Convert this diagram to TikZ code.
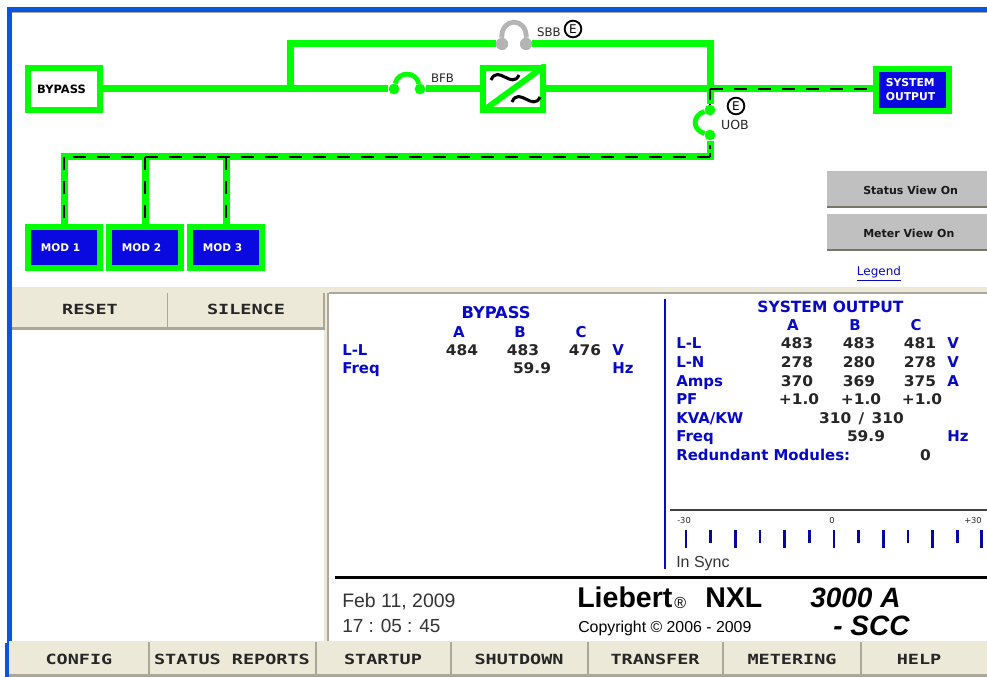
\documentclass[tikz,border=0pt]{standalone}
\usepackage{fontspec}
\setmainfont{Liberation Sans}
\newfontfamily\sanslab{DejaVu Sans}
\newfontfamily\btnfont[FakeStretch=1.32]{DejaVu Sans Mono}
\newfontfamily\datafont[FakeStretch=1.05]{DejaVu Sans}
\definecolor{busgreen}{HTML}{00FF00}
\definecolor{boxblue}{HTML}{0A0AE0}
\definecolor{txtblue}{HTML}{0808C8}
\definecolor{beige}{HTML}{ECE9D8}
\definecolor{bevel}{HTML}{ACA899}
\definecolor{winblue}{HTML}{0A55E0}
\definecolor{btngray}{HTML}{C0C0C0}
\definecolor{swgray}{HTML}{B4B4B4}
\tikzset{
  bus/.style={draw=busgreen,line width=5.25pt,line join=miter},
  live/.style={draw=black,line width=1.9pt,dash pattern=on 9.5pt off 8.5pt},
  statbox/.style={draw=busgreen,line width=4.5pt,fill=white,minimum width=54pt,minimum height=31.5pt,inner sep=0pt,font=\sanslab\bfseries\fontsize{8.6}{10}\selectfont,text=black},
  modbox/.style={draw=busgreen,line width=4.5pt,fill=boxblue,minimum width=54pt,minimum height=30.75pt,inner sep=0pt,font=\sanslab\bfseries\fontsize{7.9}{10}\selectfont,text=white},
  outbox/.style={modbox,minimum width=54.75pt,minimum height=31.5pt,align=left,font=\sanslab\bfseries\fontsize{8.1}{10.5}\selectfont},
  pole/.style={circle,fill=busgreen,inner sep=0pt,minimum size=8pt},
  polegray/.style={circle,fill=swgray,inner sep=0pt,minimum size=9pt},
  armgreen/.style={draw=busgreen,line width=3.6pt},
  armgray/.style={draw=swgray,line width=3.6pt},
  small/.style={inner sep=0pt,font=\sanslab\fontsize{8.8}{10}\selectfont,text=black!85},
  ecirc/.style={circle,draw=black,line width=1.4pt,fill=white,inner sep=0pt,minimum size=12.5pt,font=\sanslab\fontsize{9}{10}\selectfont},
  greybtn/.style={fill=btngray,inner sep=0pt},
  gbtxt/.style={inner sep=0pt,anchor=base west,font=\sanslab\bfseries\fontsize{8.25}{10}\selectfont,text=black!90},
  head/.style={inner sep=0pt,anchor=base,font=\sanslab\bfseries\fontsize{11.6}{12}\selectfont,text=txtblue},
  lab/.style={inner sep=0pt,anchor=base west,font=\sanslab\bfseries\fontsize{11.2}{12}\selectfont,text=txtblue},
  cen/.style={lab,anchor=base},
  val/.style={inner sep=0pt,anchor=base,font=\datafont\bfseries\fontsize{11}{12}\selectfont,text=black!85},
  btn/.style={inner sep=0pt,anchor=base,font=\btnfont\bfseries\fontsize{10.5}{12}\selectfont,text=black!85},
  tick/.style={draw=txtblue!80!black,line width=2pt},
  scl/.style={inner sep=0pt,anchor=base,font=\sanslab\fontsize{6.2}{8}\selectfont,text=black!85},
  plain/.style={inner sep=0pt,anchor=base west,text=black!80},
  tilde/.style={draw=black,line width=2.3pt}
}
\begin{document}
\begin{tikzpicture}[x=0.75pt,y=-0.75pt]
\useasboundingbox (0,0) rectangle (987,677);
\fill[white] (0,0) rectangle (987,677);
% window frame
\fill[winblue] (7,7) rectangle (987,12);
\fill[winblue] (7,7) rectangle (12,643);
\fill[winblue] (5,643) rectangle (9,677);
\fill[bevel] (12,12) rectangle (987,13.5);
% panels
\fill[beige] (12,287) rectangle (987,293);
\fill[bevel] (329,292) rectangle (987,294);
\fill[beige] (324,293) rectangle (328,643);
\fill[bevel] (327,293) rectangle (329,643);
% left buttons
\fill[beige] (12,293) rectangle (324,327);
\fill[bevel] (12,327) rectangle (325,330);
\fill[bevel] (166.5,293) rectangle (168,327);
\fill[bevel] (323,293) rectangle (325,330);
\node[btn] (reset) at (90,314) {RESET};
\node[btn] (silence) at (246,314) {SILENCE};
% bottom buttons
\fill[beige] (9,641) rectangle (987,674);
\fill[bevel] (9,674) rectangle (987,677);
\foreach \sx in {148,315,450,587,722,860} \fill[bevel] (\sx,642) rectangle ({\sx+1.5},674);
\node[btn] (config) at (79,664) {CONFIG};
\node[btn] (reports) at (232,664) {STATUS REPORTS};
\node[btn] (startup) at (383,664) {STARTUP};
\node[btn] (shutdown) at (519,664) {SHUTDOWN};
\node[btn] (transfer) at (655,664) {TRANSFER};
\node[btn] (metering) at (792,664) {METERING};
\node[btn] (help) at (919,664) {HELP};
% nodes of the one-line diagram
\node[statbox] (bypass) at (64,89) {BYPASS\kern3.75pt};
\node[statbox,minimum width=45pt] (conv) at (513,89) {};
\node[outbox] (sysout) at (912.5,90) {SYSTEM\\OUTPUT\kern3pt};
\node[modbox] (mod1) at (64,247.5) {MOD 1\kern5.25pt};
\node[modbox] (mod2) at (145,247.5) {MOD 2\kern5.25pt};
\node[modbox] (mod3) at (226,247.5) {MOD 3\kern5.25pt};
\coordinate (j1) at (290,89);
\coordinate (j1up) at (290,44);
\coordinate (j2up) at (710,44);
\coordinate (j2) at (710,89);
\coordinate (j3) at (710,157);
\coordinate (d1) at (64,157);
\coordinate (d2) at (145,157);
\coordinate (d3) at (226,157);
\node[pole] (bfbl) at (394,89) {};
\node[pole] (bfbr) at (420,89) {};
\node[polegray] (sbbl) at (502,44) {};
\node[polegray] (sbbr) at (526,44) {};
\node[pole] (uobt) at (710,110) {};
\node[pole] (uobb) at (710,135) {};
% buses
\draw[bus] (bypass.east) -- (bfbl);
\draw[bus] (bfbr) -- (conv.west);
\draw[bus] (conv.east) -- (j2);
\draw[bus] (j1) -- (j1up) -- (sbbl);
\draw[bus] (sbbr) -- (j2up) -- (j2);
\draw[bus] (j2) -- (j2 -| sysout.west);
\draw[bus] (j2) -- (uobt);
\draw[bus] (uobb) -- (j3);
\draw[bus] ([xshift=-2.625pt]d1) -- ([xshift=2.625pt]j3);
\draw[bus] (d1) -- (mod1.north);
\draw[bus] (d2) -- (mod2.north);
\draw[bus] (d3) -- (mod3.north);
\draw[armgreen] (bfbl) .. controls (398,71) and (416,71) .. (bfbr);
\draw[armgray] (sbbl) .. controls (501,17) and (527,17) .. (sbbr);
\draw[armgreen] (uobt) .. controls (692,115) and (692,130) .. (uobb);
\node[polegray] at (sbbl) {};
\node[polegray] at (sbbr) {};
% live dashes
\draw[live] (j2) -- (j2 -| sysout.west);
\draw[live,dash pattern=on 8pt off 3pt] (j2) -- (uobt);
\draw[live,dash pattern=on 3pt off 3pt] ([yshift=-3pt]uobb.south) -- (j3);
\draw[live] (j3) -- (d1);
\draw[live] (d1) -- (mod1.north);
\draw[live] (d2) -- (mod2.north);
\draw[live] (d3) -- (mod3.north);
% converter symbol
\begin{scope}
\clip (480,65) rectangle (546,113);
\draw[draw=busgreen,line width=4.5pt] (conv.south west) -- (conv.north east);
\end{scope}
\draw[tilde] (491,80) .. controls (498,64) and (512,90) .. (519,75);
\draw[tilde] (512,102) .. controls (519,86) and (533,112) .. (540,97);
% small labels
\node[small] (bfb) at (442.5,78) {BFB};
\node[small] (sbb) at (549,32) {SBB};
\node[ecirc] (esbb) at (573,29) {E};
\node[ecirc] (euob) at (736,106) {E};
\node[small,font=\sanslab\fontsize{9.4}{10}\selectfont] (uob) at (735,124.5) {UOB};
% grey buttons
\fill[greybtn] (827,171) rectangle (987,207);
\fill[bevel!70!black] (827,206) rectangle (987,208);
\fill[greybtn] (827,214) rectangle (987,250);
\fill[bevel!70!black] (827,249) rectangle (987,251);
\node[gbtxt] (statusv) at (863,195) {Status View On};
\node[gbtxt] (meterv) at (863,238) {Meter View On};
\node[inner sep=0pt,anchor=base,font=\sanslab\fontsize{9}{10}\selectfont,text=txtblue] (legend) at (879,275) {Legend};
\draw[txtblue,line width=0.8pt] (857,280.5) -- (901,280.5);
% bypass meter
\node[head,font=\sanslab\bfseries\fontsize{12.2}{12}\selectfont] (bph) at (496,318) {BYPASS};
\node[cen] (bpa) at (459,337) {A};
\node[cen] (bpb) at (520,337) {B};
\node[cen] (bpc) at (581,337) {C};
\node[lab] (bpll) at (342,355) {L-L};
\node[val] (bp1) at (462,355) {484};
\node[val] (bp2) at (523,355) {483};
\node[val] (bp3) at (585,355) {476};
\node[lab] (bpv) at (612,355) {V};
\node[lab] (bpf) at (342,373) {Freq};
\node[val] (bpfv) at (532,373) {59.9};
\node[lab] (bphz) at (612,373) {Hz};
\draw[txtblue,line width=1pt] (665,299) -- (665,569);
% system output meter
\node[head] (soh) at (830.5,312) {SYSTEM OUTPUT};
\node[cen] (soa) at (793,330) {A};
\node[cen] (sob) at (855,330) {B};
\node[cen] (soc) at (916,330) {C};
\node[lab] (r1) at (676,348) {L-L};
\node[val] (r1a) at (797,348) {483};
\node[val] (r1b) at (859,348) {483};
\node[val] (r1c) at (920,348) {481};
\node[lab] (r1u) at (947,348) {V};
\node[lab] (r2) at (676,367) {L-N};
\node[val] (r2a) at (797,367) {278};
\node[val] (r2b) at (859,367) {280};
\node[val] (r2c) at (920,367) {278};
\node[lab] (r2u) at (947,367) {V};
\node[lab] (r3) at (676,386) {Amps};
\node[val] (r3a) at (797,386) {370};
\node[val] (r3b) at (859,386) {369};
\node[val] (r3c) at (920,386) {375};
\node[lab] (r3u) at (947,386) {A};
\node[lab] (r4) at (676,404) {PF};
\node[val] (r4a) at (799,404) {+1.0};
\node[val] (r4b) at (861,404) {+1.0};
\node[val] (r4c) at (922,404) {+1.0};
\node[lab] (r5) at (676,423) {KVA/KW};
\node[val] (r5v) at (861.5,423) {310\hspace{5.5pt}/\hspace{5.5pt}310};
\node[lab] (r6) at (676,441) {Freq};
\node[val] (r6v) at (866,441) {59.9};
\node[lab] (r6u) at (947,441) {Hz};
\node[lab] (r7) at (676,460) {Redundant Modules:};
\node[val] (r7v) at (925.5,460) {0};
% sync scale
\draw[black!75,line width=0.8pt] (670,510) -- (987,510);
\node[scl] (sm) at (684,523) {-30};
\node[scl] (s0) at (832,523) {0};
\node[scl] (sp) at (973,523) {+30};
\foreach \i in {0,2,...,12} \draw[tick] ({686+24.65*\i},530) -- +(0,18);
\foreach \i in {1,3,...,11} \draw[tick] ({686+24.65*\i},530) -- +(0,13);
\node[plain,font=\fontsize{12}{14}\selectfont] (sync) at (676,567) {In Sync};
% footer
\draw[black,line width=2.25pt] (335,577) -- (987,577);
\node[plain,font=\fontsize{14.6}{16}\selectfont] (date) at (342,607) {Feb 11, 2009};
\node[plain,font=\fontsize{14.2}{16}\selectfont] (time) at (342,632) {17 : 05 : 45};
\node[plain,text=black,font=\bfseries\fontsize{21.4}{24}\selectfont] (lieb) at (577,607) {Liebert};
\node[plain,text=black,font=\fontsize{12}{14}\selectfont] (reg) at (674,608) {®};
\node[plain,text=black,font=\bfseries\fontsize{21.4}{24}\selectfont] (nxl) at (705,607) {NXL};
\node[plain,text=black,font=\fontsize{11.9}{14}\selectfont] (copy) at (578,632) {Copyright © 2006 - 2009};
\node[plain,text=black,font=\bfseries\itshape\fontsize{21}{24}\selectfont] (amps) at (810,607) {3000 A};
\node[plain,text=black,font=\bfseries\itshape\fontsize{21}{24}\selectfont] (scc) at (833,635) {- SCC};
\end{tikzpicture}
\end{document}
